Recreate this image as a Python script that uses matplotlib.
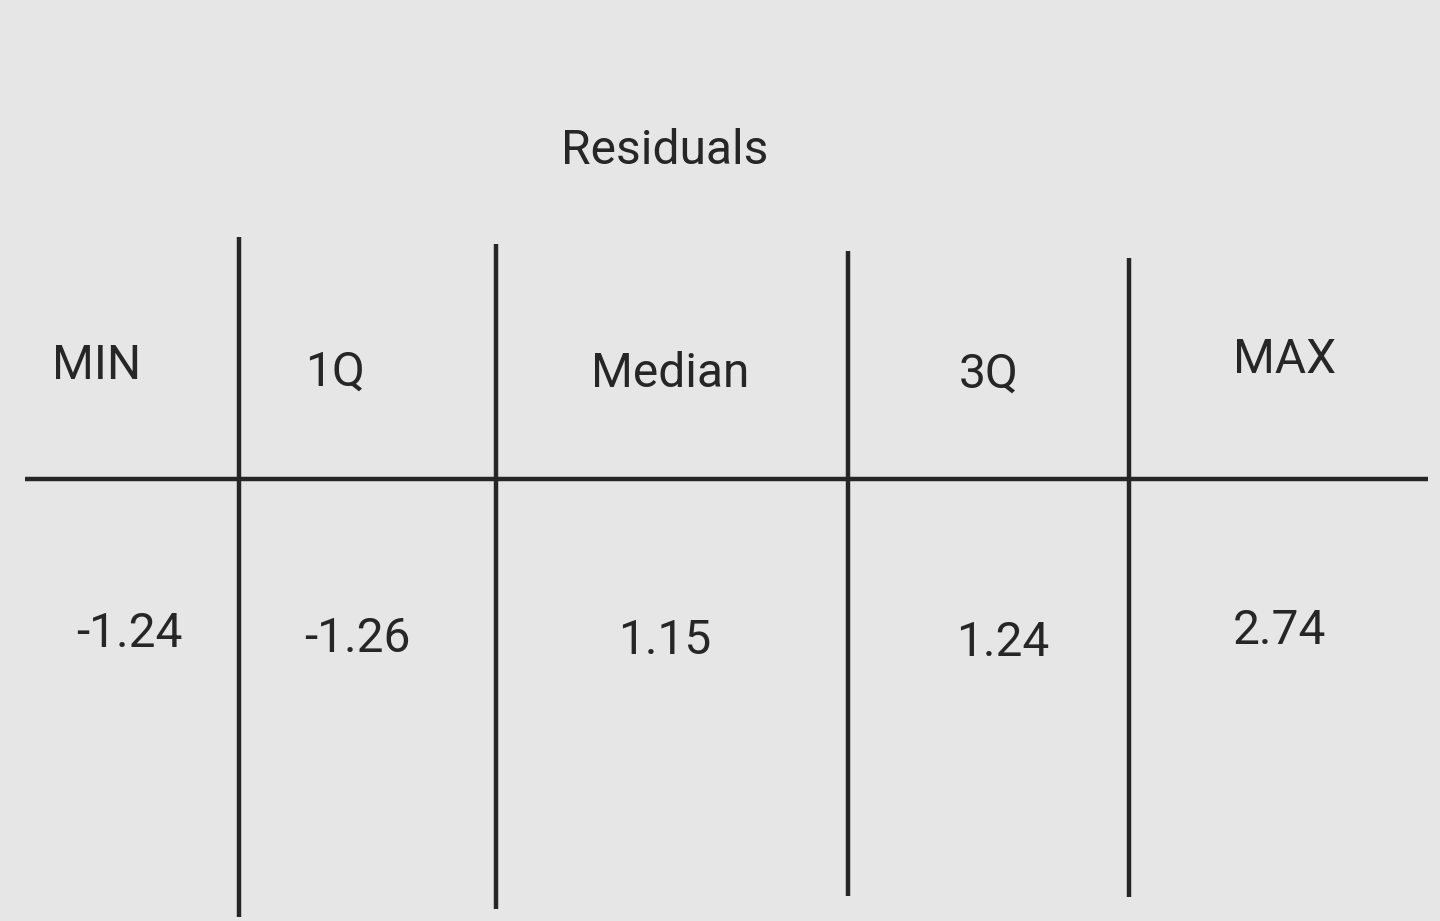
import matplotlib.pyplot as plt

# table content
title = 'Residuals'
headers = ['MIN', '1Q', 'Median', '3Q', 'MAX']
values = ['-1.24', '-1.26', '1.15', '1.24', '2.74']

# hand-placed positions (pixels, origin top-left)
header_pos = [(97, 366), (335, 373), (670, 374), (989, 375), (1285, 360)]
value_pos = [(129, 634), (357, 639), (665, 641), (1003, 643), (1279, 631)]
vlines = [(239, 237, 917), (496, 244, 909), (848, 251, 896), (1129, 258, 897)]

bg = '#e6e6e6'
ink = '#262626'

plt.rcParams['font.family'] = ['Roboto', 'DejaVu Sans']

fig = plt.figure(figsize=(14.4, 9.21), dpi=100, facecolor=bg)
ax = fig.add_axes([0, 0, 1, 1])
ax.set_facecolor(bg)
ax.set_xlim(0, 1440)
ax.set_ylim(921, 0)
ax.axis('off')

ax.text(665, 151, title, ha='center', va='center', fontsize=34.5, color=ink)

for (x, y), h in zip(header_pos, headers):
    ax.text(x, y, h, ha='center', va='center', fontsize=34.5, color=ink)
for (x, y), v in zip(value_pos, values):
    ax.text(x, y, v, ha='center', va='center', fontsize=34.5, color=ink)

ax.plot([25, 1428], [479, 479], color=ink, lw=3.2, solid_capstyle='butt')
for x, y0, y1 in vlines:
    ax.plot([x, x], [y0, y1], color=ink, lw=3.2, solid_capstyle='butt')

fig.savefig('out.png', dpi=100, facecolor=bg)
